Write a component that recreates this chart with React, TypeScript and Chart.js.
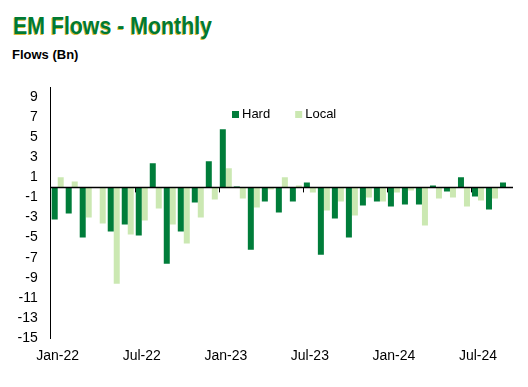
import React, { useEffect, useRef } from "react";
import { Chart, registerables } from "chart.js";

Chart.register(...registerables);

const months = [
  "Jan-22", "Feb-22", "Mar-22", "Apr-22", "May-22", "Jun-22",
  "Jul-22", "Aug-22", "Sep-22", "Oct-22", "Nov-22", "Dec-22",
  "Jan-23", "Feb-23", "Mar-23", "Apr-23", "May-23", "Jun-23",
  "Jul-23", "Aug-23", "Sep-23", "Oct-23", "Nov-23", "Dec-23",
  "Jan-24", "Feb-24", "Mar-24", "Apr-24", "May-24", "Jun-24",
  "Jul-24", "Aug-24", "Sep-24",
];

const hardFlows = [
  -3.2, -2.6, -5.0, 0, -4.4, -3.7,
  -4.8, 2.4, -7.6, -4.4, -1.5, 2.6,
  5.8, 0.1, -6.2, -1.4, -2.5, -1.4,
  0.5, -6.7, -3.1, -5.0, -1.8, -1.4,
  -1.9, -1.7, -1.7, 0.2, -0.4, 1.0,
  -0.9, -2.2, 0.5,
];

const localFlows = [
  1.0, 0.6, -3.0, -3.6, -9.6, -4.7,
  -3.3, -2.1, -3.7, -5.6, -3.0, -1.2,
  1.9, -1.1, -2.0, -0.2, 1.0, 0.2,
  -0.5, -2.3, -1.4, -2.8, -1.0, -1.4,
  -0.5, -0.3, -3.8, -1.1, -1.0, -1.9,
  -1.3, -1.1, 0,
];

const yTickValues = [-15, -13, -11, -9, -7, -5, -3, -1, 1, 3, 5, 7, 9];
const Y_MIN = -15;
const Y_MAX = 10;
const LABEL_EVERY = 6;

const FONT = "'Liberation Sans', Arial, Helvetica, sans-serif";
const HARD_COLOR = "#007D3A";
const LOCAL_COLOR = "#CBE8B2";

const overlayPlugin = {
  id: "overlay",
  afterDatasetsDraw(chart: any) {
    const { ctx, chartArea, scales } = chart;
    const x = scales.x;
    const y = scales.y;
    const y0 = y.getPixelForValue(0);
    ctx.save();
    // zero axis line
    ctx.strokeStyle = "#000";
    ctx.lineWidth = 1.5;
    ctx.beginPath();
    ctx.moveTo(chartArea.left, y0);
    ctx.lineTo(chartArea.right, y0);
    ctx.stroke();
    // category tick marks
    const half = (x.getPixelForValue(1) - x.getPixelForValue(0)) / 2;
    ctx.lineWidth = 1;
    ctx.beginPath();
    for (let i = LABEL_EVERY; i < months.length; i += LABEL_EVERY) {
      const px = Math.round(x.getPixelForValue(i) - half) + 0.5;
      ctx.moveTo(px, y0);
      ctx.lineTo(px, y0 + 5);
    }
    ctx.stroke();

    // legend inside plot
    ctx.font = `13px ${FONT}`;
    ctx.textBaseline = "middle";
    ctx.textAlign = "left";
    let lx = chartArea.left + 181.3;
    const boxTop = chartArea.top + 24;
    const textMid = chartArea.top + 27.7;
    chart.data.datasets.forEach((ds: any) => {
      ctx.fillStyle = ds.backgroundColor;
      ctx.fillRect(lx, boxTop, 7, 7);
      ctx.fillStyle = "#000";
      ctx.fillText(ds.label, lx + 10, textMid);
      lx += 10 + ctx.measureText(ds.label).width + 25;
    });
    ctx.restore();
  },
};

export default function App() {
  const canvasRef = useRef<HTMLCanvasElement | null>(null);

  useEffect(() => {
    document.body.style.margin = "0";
    const canvas = canvasRef.current;
    if (!canvas) return;
    const chart = new Chart(canvas, {
      type: "bar",
      data: {
        labels: months,
        datasets: [
          {
            label: "Hard",
            data: hardFlows,
            backgroundColor: HARD_COLOR,
            borderWidth: 0,
            categoryPercentage: 0.857,
            barPercentage: 1,
          },
          {
            label: "Local",
            data: localFlows,
            backgroundColor: LOCAL_COLOR,
            borderWidth: 0,
            categoryPercentage: 0.857,
            barPercentage: 1,
          },
        ],
      },
      options: {
        responsive: false,
        animation: false,
        devicePixelRatio: 1,
        layout: { padding: { top: 87, right: 15, left: 0, bottom: 0 } },
        plugins: {
          legend: { display: false },
          tooltip: { enabled: false },
          title: { display: false },
        },
        scales: {
          x: {
            grid: { display: false, drawTicks: false },
            border: { display: false },
            ticks: {
              autoSkip: false,
              maxRotation: 0,
              minRotation: 0,
              padding: 10,
              color: "#000",
              font: { size: 14, family: FONT },
              callback: (_v: any, i: number) => (i % LABEL_EVERY === 0 ? months[i] : ""),
            },
            afterFit: (s: any) => {
              s.height = 49;
            },
          },
          y: {
            min: Y_MIN,
            max: Y_MAX,
            grid: { display: false, drawTicks: false },
            border: { display: true, color: "#000", width: 1 },
            ticks: {
              padding: 13,
              color: "#000",
              font: { size: 14, family: FONT },
            },
            afterBuildTicks: (s: any) => {
              s.ticks = yTickValues.map((v) => ({ value: v }));
            },
            afterFit: (s: any) => {
              s.width = 50.7;
            },
          },
        },
      },
      plugins: [overlayPlugin],
    });
    return () => chart.destroy();
  }, []);

  return (
    <div style={{ position: "fixed", left: 0, top: 0, width: 528, height: 387, background: "#fff" }}>
      <div
        style={{
          position: "absolute",
          left: 13,
          top: 13.6,
          fontFamily: FONT,
          fontWeight: "bold",
          fontSize: 24.5,
          lineHeight: "24.5px",
          color: "#007A33",
          textShadow: "-0.6px 0.6px 0 #D6BA3A",
          whiteSpace: "nowrap",
          transform: "scaleX(0.87)",
          transformOrigin: "left top",
        }}
      >
        EM Flows - Monthly
      </div>
      <div
        style={{
          position: "absolute",
          left: 12,
          top: 48.3,
          fontFamily: FONT,
          fontWeight: "bold",
          fontSize: 13,
          lineHeight: "13px",
          color: "#000",
          whiteSpace: "nowrap",
        }}
      >
        Flows (Bn)
      </div>
      <canvas
        ref={canvasRef}
        width={528}
        height={387}
        style={{ position: "absolute", left: 0, top: 0, width: 528, height: 387 }}
      />
    </div>
  );
}
